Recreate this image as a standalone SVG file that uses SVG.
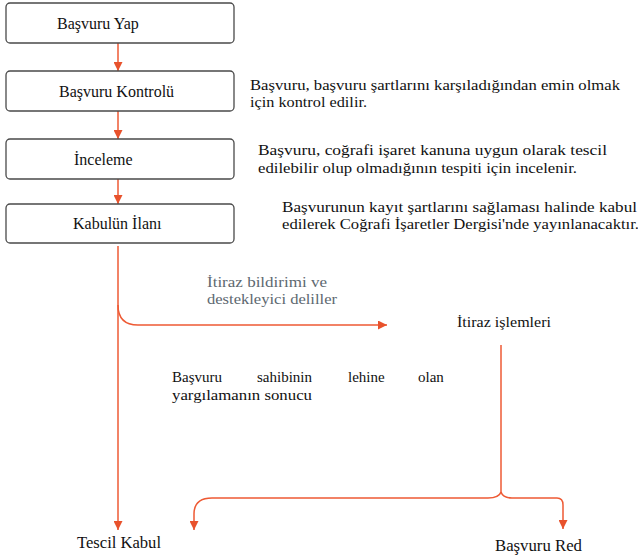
<svg xmlns="http://www.w3.org/2000/svg" width="638" height="556" viewBox="0 0 638 556">
  <defs>
    <marker id="ah" viewBox="0 0 10 10" refX="10" refY="5" markerWidth="9" markerHeight="9" markerUnits="userSpaceOnUse" orient="auto">
      <path d="M0,0 L10,5 L0,10 Z" fill="#e8522c"/>
    </marker>
  </defs>
  <style>
    .box { fill: #ffffff; stroke: #4a4a4a; stroke-width: 1.3; }
    .lbl { font-family: "Liberation Serif", "Times New Roman", serif; font-size: 16px; fill: #111111; }
    .note { font-family: "Liberation Serif", "Times New Roman", serif; font-size: 15px; fill: #111111; }
    .gray { fill: #5d6870; }
    .ln { fill: none; stroke: #ee5a34; stroke-width: 1.5; }
    .arr { marker-end: url(#ah); }
  </style>
  <rect width="638" height="556" fill="#ffffff"/>

  <g id="connectors">
    <line class="ln arr" x1="118" y1="43" x2="118" y2="71"/>
    <line class="ln arr" x1="118" y1="111" x2="118" y2="139"/>
    <line class="ln arr" x1="118" y1="179" x2="118" y2="204"/>
    <!-- main line down to Tescil Kabul -->
    <line class="ln arr" x1="118" y1="246" x2="118" y2="530"/>
    <!-- branch to objection -->
    <path class="ln arr" d="M118,305 Q118,325 138,325 L387,325"/>
    <!-- objection split -->
    <path class="ln" d="M501,345 L501,492"/>
    <path class="ln arr" d="M501,492 Q499,498 488,498 L212,498 Q194,498 194,514 L194,530"/>
    <path class="ln arr" d="M501,492 Q503,498 512,498 L557,498 Q563,498 563,505 L563,529"/>
  </g>

  <g id="basvuru-yap">
    <rect class="box" x="6" y="3" width="228" height="40" rx="4"/>
    <text class="lbl" x="57" y="29">Başvuru Yap</text>
  </g>
  <g id="basvuru-kontrolu">
    <rect class="box" x="6" y="71" width="228" height="40" rx="4"/>
    <text class="lbl" x="59" y="97">Başvuru Kontrolü</text>
  </g>
  <g id="inceleme">
    <rect class="box" x="6" y="139" width="228" height="40" rx="4"/>
    <text class="lbl" x="74" y="165">İnceleme</text>
  </g>
  <g id="kabulun-ilani">
    <rect class="box" x="6" y="204" width="228" height="39" rx="4"/>
    <text class="lbl" x="73" y="229">Kabulün İlanı</text>
  </g>

  <g id="note-kontrol">
    <text class="note" x="250" y="90" textLength="370" lengthAdjust="spacingAndGlyphs">Başvuru, başvuru şartlarını  karşıladığından  emin olmak</text>
    <text class="note" x="250" y="107" textLength="117" lengthAdjust="spacingAndGlyphs">için kontrol edilir.</text>
  </g>
  <g id="note-inceleme">
    <text class="note" x="258" y="155" textLength="349" lengthAdjust="spacingAndGlyphs">Başvuru, coğrafi işaret kanuna uygun olarak tescil</text>
    <text class="note" x="258" y="173" textLength="319" lengthAdjust="spacingAndGlyphs">edilebilir  olup olmadığının  tespiti  için  incelenir.</text>
  </g>
  <g id="note-ilan">
    <text class="note" x="282" y="212" textLength="355" lengthAdjust="spacingAndGlyphs">Başvurunun kayıt şartlarını sağlaması halinde kabul</text>
    <text class="note" x="282" y="229" textLength="357" lengthAdjust="spacingAndGlyphs">edilerek Coğrafi İşaretler Dergisi'nde yayınlanacaktır.</text>
  </g>

  <g id="itiraz-label">
    <text class="note gray" x="207" y="287" textLength="120" lengthAdjust="spacingAndGlyphs">İtiraz bildirimi  ve</text>
    <text class="note gray" x="207" y="304" textLength="130" lengthAdjust="spacingAndGlyphs">destekleyici  deliller</text>
  </g>

  <g id="itiraz-islemleri">
    <text class="note" x="457" y="327" textLength="94" lengthAdjust="spacingAndGlyphs">İtiraz  işlemleri</text>
  </g>

  <g id="yargilama-label">
    <text class="note" x="172" y="382">Başvuru</text>
    <text class="note" x="257" y="382">sahibinin</text>
    <text class="note" x="348" y="382">lehine</text>
    <text class="note" x="418" y="382">olan</text>
    <text class="note" x="172" y="400" textLength="140" lengthAdjust="spacingAndGlyphs">yargılamanın  sonucu</text>
  </g>

  <g id="tescil-kabul">
    <text class="lbl" x="77" y="548" textLength="84" lengthAdjust="spacingAndGlyphs">Tescil Kabul</text>
  </g>
  <g id="basvuru-red">
    <text class="lbl" x="495" y="551" textLength="87" lengthAdjust="spacingAndGlyphs">Başvuru Red</text>
  </g>
</svg>
